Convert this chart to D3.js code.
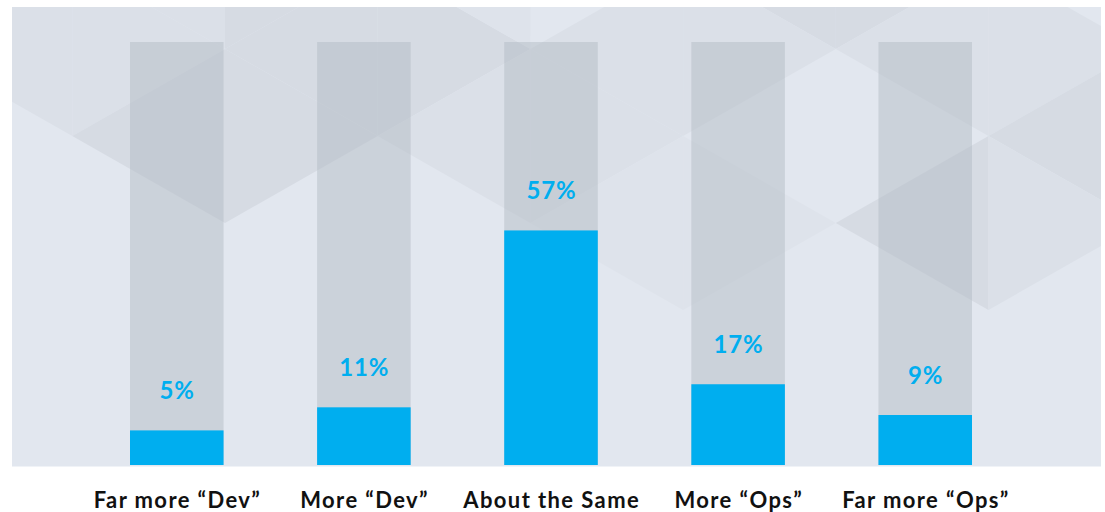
<!DOCTYPE html>
<html>
<head>
<meta charset="utf-8">
<script src="https://cdn.jsdelivr.net/npm/d3@7"></script>
<style>
  body { margin: 0; background: #fff; }
  svg { display: block; }
</style>
</head>
<body>
<div id="chart"></div>
<script>
//************************************************************************
// data
//************************************************************************
var categories = ["Far more \u201cDev\u201d", "More \u201cDev\u201d", "About the Same", "More \u201cOps\u201d", "Far more \u201cOps\u201d"];
var values = [5, 11, 57, 17, 9];

//************************************************************************
// display settings
//************************************************************************
var svgWidth = 1105;
var svgHeight = 512;

var panel = { x: 12, y: 7, w: 1089, h: 459.5 };
var plot = { left: 130, right: 972, top: 42, bottom: 465 };

var svg = d3.select("#chart")
  .append("svg")
  .attr("width", svgWidth)
  .attr("height", svgHeight);

//************************************************************************
// background panel with faint triangle pattern
//************************************************************************
svg.append("defs").append("clipPath")
  .attr("id", "panelClip")
  .append("rect")
  .attr("x", panel.x).attr("y", panel.y)
  .attr("width", panel.w).attr("height", panel.h);

svg.append("rect")
  .attr("x", panel.x).attr("y", panel.y)
  .attr("width", panel.w).attr("height", panel.h)
  .attr("fill", "#e2e7ef");

// lattice of triangles: columns every 152.7px, rows every 87px
var lat = { x0: 225, y0: 49, w: 152.7, h: 87 };
function vtx(k, j) { return [lat.x0 + k * lat.w, lat.y0 + j * lat.h]; }
function tri(type, k, j) {
  if (type === "L") return [vtx(k, j - 1), vtx(k, j + 1), vtx(k + 1, j)];
  return [vtx(k + 1, j - 1), vtx(k + 1, j + 1), vtx(k, j)];
}
var shadeColor = { 0.5: "#dee3eb", 1: "#dbe0e8", 2: "#d6dbe3" };
var shades = [
  ["R", -2, 0, 1], ["L", -2, -1, 1],
  ["L", -1, 0, 1], ["R", -1, -1, 1], ["R", -1, 1, 2],
  ["L", 0, 1, 2], ["R", 0, 0, 2], ["L", 0, -1, 2],
  ["L", 1, 0, 2], ["R", 1, 1, 1], ["R", 1, -1, 0.5],
  ["L", 2, 1, 1], ["R", 2, 0, 1], ["R", 2, 2, 0.5],
  ["R", 3, -1, 2], ["L", 3, 0, 1], ["L", 3, 2, 0.5],
  ["L", 4, -1, 2], ["R", 4, 0, 1], ["R", 4, 2, 2],
  ["L", 5, 0, 1], ["R", 5, 1, 2], ["L", 5, 2, 1]
];

svg.append("g")
  .attr("clip-path", "url(#panelClip)")
  .selectAll("polygon")
  .data(shades)
  .join("polygon")
  .attr("points", d => tri(d[0], d[1], d[2]).map(p => p.join(",")).join(" "))
  .attr("fill", d => shadeColor[d[3]]);

//************************************************************************
// scales
//************************************************************************
var xScale = d3.scaleBand()
  .domain(categories)
  .range([plot.left, plot.right])
  .paddingInner(0.5)
  .paddingOuter(0);

var yScale = d3.scaleLinear()
  .domain([-4, 106])
  .range([plot.bottom, plot.top]);

//************************************************************************
// bars: grey track, blue value
//************************************************************************
var rows = categories.map((c, i) => ({ cat: c, val: values[i] }));

svg.append("g").selectAll("rect")
  .data(rows)
  .join("rect")
  .attr("x", d => xScale(d.cat))
  .attr("y", plot.top)
  .attr("width", xScale.bandwidth())
  .attr("height", plot.bottom - plot.top)
  .attr("fill", "rgb(176,185,194)")
  .attr("fill-opacity", 0.45);

svg.append("g").selectAll("rect")
  .data(rows)
  .join("rect")
  .attr("x", d => xScale(d.cat))
  .attr("y", d => yScale(d.val))
  .attr("width", xScale.bandwidth())
  .attr("height", d => plot.bottom - yScale(d.val))
  .attr("fill", "#00aeef");

//************************************************************************
// value labels
//************************************************************************
svg.append("g").selectAll("text")
  .data(rows)
  .join("text")
  .attr("x", d => xScale(d.cat) + xScale.bandwidth() / 2 + 0.4)
  .attr("y", d => yScale(d.val) - 31)
  .attr("text-anchor", "middle")
  .attr("font-family", "Lato, sans-serif")
  .attr("font-weight", 700)
  .attr("font-size", 24)
  .attr("letter-spacing", 0.8)
  .attr("fill", "#00aeef")
  .text(d => d.val + "%");

//************************************************************************
// category axis labels
//************************************************************************
var xAxis = svg.append("g")
  .attr("transform", `translate(0.7, ${plot.bottom})`)
  .call(d3.axisBottom(xScale).tickSize(0).tickPadding(0));

xAxis.select(".domain").remove();
xAxis.selectAll("text")
  .attr("dy", null)
  .attr("y", 43)
  .attr("font-family", "Lato, sans-serif")
  .attr("font-weight", 700)
  .attr("font-size", 22)
  .attr("letter-spacing", 1.4)
  .attr("fill", "#111");
</script>
</body>
</html>
